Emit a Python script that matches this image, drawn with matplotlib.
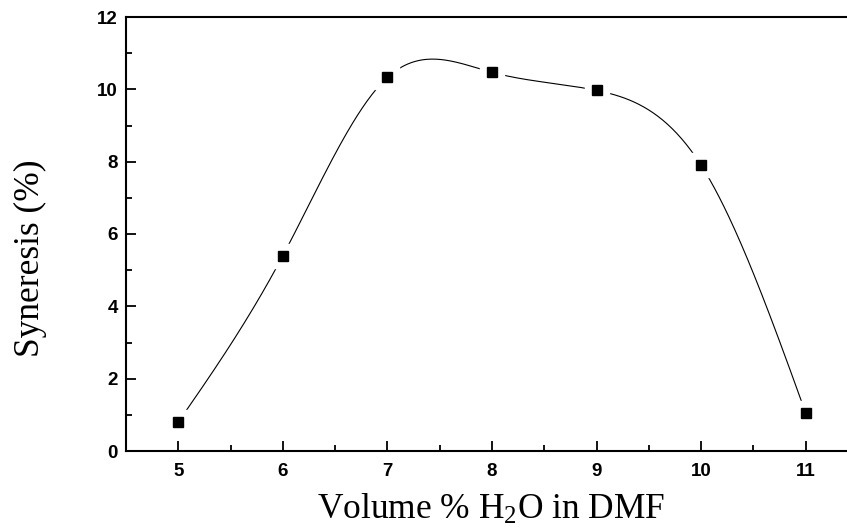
import numpy as np
import matplotlib
matplotlib.use("Agg")
import matplotlib.pyplot as plt
from matplotlib.ticker import MultipleLocator

plt.rcParams["mathtext.fontset"] = "custom"
plt.rcParams["mathtext.rm"] = "Liberation Serif"
plt.rcParams["mathtext.it"] = "Liberation Serif:italic"
plt.rcParams["mathtext.default"] = "rm"

# data
water_vol = [5, 6, 7, 8, 9, 10, 11]
syneresis = [0.80, 5.40, 10.33, 10.47, 9.97, 7.90, 1.05]
xticks = [5, 6, 7, 8, 9, 10, 11]
yticks = [0, 2, 4, 6, 8, 10, 12]


def natural_spline(x, y, xs):
    x = np.asarray(x, float)
    y = np.asarray(y, float)
    n = len(x)
    h = np.diff(x)
    A = np.zeros((n, n))
    b = np.zeros(n)
    A[0, 0] = 1
    A[-1, -1] = 1
    for i in range(1, n - 1):
        A[i, i - 1] = h[i - 1]
        A[i, i] = 2 * (h[i - 1] + h[i])
        A[i, i + 1] = h[i]
        b[i] = 6 * ((y[i + 1] - y[i]) / h[i] - (y[i] - y[i - 1]) / h[i - 1])
    M = np.linalg.solve(A, b)
    out = np.empty_like(xs)
    for k, t in enumerate(xs):
        i = min(max(np.searchsorted(x, t) - 1, 0), n - 2)
        dx1 = x[i + 1] - t
        dx0 = t - x[i]
        out[k] = (M[i] * dx1 ** 3 / (6 * h[i]) + M[i + 1] * dx0 ** 3 / (6 * h[i])
                  + (y[i] / h[i] - M[i] * h[i] / 6) * dx1
                  + (y[i + 1] / h[i] - M[i + 1] * h[i] / 6) * dx0)
    return out


fig = plt.figure(figsize=(8.47, 5.30), dpi=100)
ax = fig.add_axes([126 / 847, 79 / 530, 732 / 847, 434 / 530])

xs = np.linspace(water_vol[0], water_vol[-1], 400)
ax.plot(xs, natural_spline(water_vol, syneresis, xs), color="black", lw=0.8, zorder=1)
ax.plot(water_vol, syneresis, ls="none", marker="s", ms=17, color="white", zorder=2)
ax.plot(water_vol, syneresis, ls="none", marker="s", ms=7.8, color="black", zorder=3)

ax.set_xlim(4.5, 11.5)
ax.set_ylim(0, 12)
ax.set_xticks(xticks)
ax.set_yticks(yticks)
ax.xaxis.set_minor_locator(MultipleLocator(0.5))
ax.yaxis.set_minor_locator(MultipleLocator(1))
ax.tick_params(which="both", direction="in", width=1.3, colors="black")
ax.tick_params(which="major", length=7)
ax.tick_params(which="minor", length=4)
ax.tick_params(axis="x", which="major", pad=9)
ax.tick_params(axis="y", which="major", pad=6)
for lab in ax.get_xticklabels() + ax.get_yticklabels():
    lab.set_fontfamily("Liberation Sans")
    lab.set_fontweight("bold")
    lab.set_fontsize(13.5)

for s in ["left", "bottom", "top"]:
    ax.spines[s].set_linewidth(1.5)
ax.spines["right"].set_visible(False)

ax.set_xlabel("Volume % H$_2$O in DMF", fontfamily="Liberation Serif", fontsize=25.5)
ax.set_ylabel("Syneresis (%)", fontfamily="Liberation Serif", fontsize=25.5)
ax.xaxis.set_label_coords((491 - 126) / 732, (451 - 510) / 434)
ax.yaxis.set_label_coords((30 - 126) / 732, (451 - 258) / 434)
ax.xaxis.label.set_va("center")
ax.yaxis.label.set_va("center")
ax.yaxis.label.set_ha("center")

fig.savefig("out.png", dpi=100)
